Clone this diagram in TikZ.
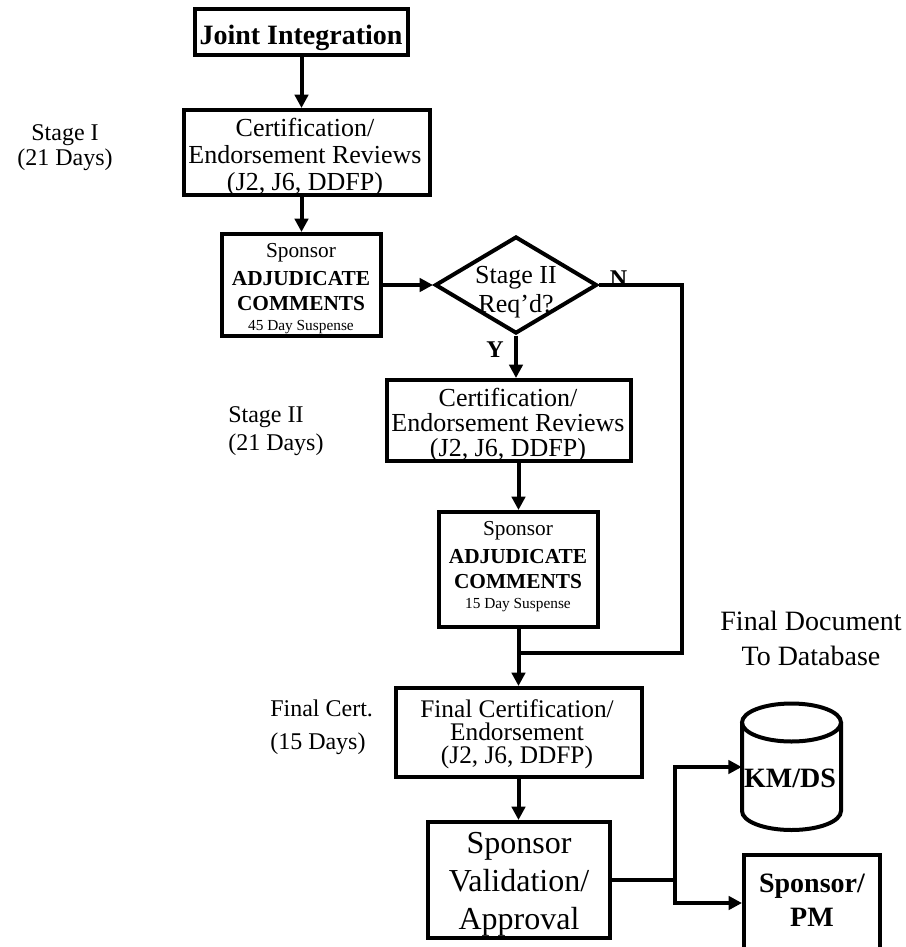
\documentclass[tikz,border=0pt]{standalone}
\usepackage{fontspec}
\setmainfont{Liberation Serif}
\usetikzlibrary{arrows.meta,shapes.geometric}
\begin{document}
\begin{tikzpicture}[x=0.75pt,y=-0.75pt,
  line/.style={line width=3pt},
  arr/.style={line width=3pt,-{Triangle[length=10pt,width=10pt]}},
  box/.style={draw,line width=3pt,rectangle,inner sep=0pt},
  txt/.style={inner sep=0pt,align=center},
  lbl/.style={inner sep=0pt,align=left,anchor=west},
  fs/.style 2 args={font=\fontsize{#1}{#2}\selectfont},
]
\useasboundingbox (0,0) rectangle (906,947);
\clip (0,0) rectangle (906,947);

% ---- boxes ----
\node[box,minimum width=213*0.75pt,minimum height=46*0.75pt] (joint) at (301.5,32) {};
\node[txt,fs={21}{24}] (jointT) at (301,38) {\bfseries Joint Integration};

\node[box,minimum width=246*0.75pt,minimum height=85*0.75pt] (cert1) at (307,152.5) {};
\node[txt,fs={19.5}{20.5}] (cert1T) at (305,157) {Certification/\\Endorsement Reviews\\(J2, J6, DDFP)};

\node[box,minimum width=159*0.75pt,minimum height=102*0.75pt] (spons1) at (301.5,285) {};
\node[txt,fs={16}{18.75}] (spons1T) at (301,289) {Sponsor\\[2.25pt]\textbf{ADJUDICATE}\\\textbf{COMMENTS}\\[-3.75pt]{\fontsize{11.5}{14}\selectfont 45 Day Suspense}};

\node[draw,line width=3pt,diamond,inner sep=0pt,minimum width=162*0.75pt,minimum height=97*0.75pt] (dec) at (516,285) {};
\node[txt,fs={19.5}{21.75}] (decT) at (516,292) {Stage II\\Req'd?};

\node[box,minimum width=244*0.75pt,minimum height=81*0.75pt] (cert2) at (509,420.5) {};
\node[txt,fs={19.5}{19}] (cert2T) at (508,425) {Certification/\\Endorsement Reviews\\(J2, J6, DDFP)};

\node[box,minimum width=159*0.75pt,minimum height=115*0.75pt] (spons2) at (518.5,569.5) {};
\node[txt,fs={16}{18.75}] (spons2T) at (518,567) {Sponsor\\[2.25pt]\textbf{ADJUDICATE}\\\textbf{COMMENTS}\\[-3.75pt]{\fontsize{11.5}{14}\selectfont 15 Day Suspense}};

\node[box,minimum width=246*0.75pt,minimum height=89*0.75pt] (final) at (518.5,732.5) {};
\node[txt,fs={19}{17.25}] (finalT) at (517,734) {Final Certification/\\Endorsement\\(J2, J6, DDFP)};

\node[box,minimum width=182*0.75pt,minimum height=116*0.75pt] (valid) at (518.5,880) {};
\node[txt,fs={24}{28.5}] (validT) at (519,884) {Sponsor\\Validation/\\Approval};

\node[box,minimum width=136*0.75pt,minimum height=96*0.75pt] (pm) at (812,903) {};
\node[txt,fs={21}{25.5}] (pmT) at (812,900) {\bfseries Sponsor/\\\bfseries PM};

% ---- database cylinder ----
\node[inner sep=0pt,minimum width=99*0.75pt,minimum height=126*0.75pt] (cyl) at (791.5,767) {};
\draw[line] (791.5,722.5) ellipse[x radius=37.125pt,y radius=14.25pt];
\draw[line] (742,722.5) -- (742,811) arc[start angle=180,end angle=360,x radius=37.125pt,y radius=14.25pt] -- (841,722.5);
\node[txt,fs={21}{24}] (cylT) at (790,778) {\bfseries KM/DS};

% ---- side labels ----
\node[txt,fs={18}{19}] (stage1) at (65,147.5) {Stage I\\(21 Days)};
\node[lbl,fs={18}{21}] (stage2) at (228,431) {Stage II\\(21 Days)};
\node[lbl,fs={18}{24.75}] (stage3) at (270,727) {Final Cert.\\(15 Days)};
\node[txt,fs={21}{26}] (fdoc) at (811,638.5) {Final Document\\To Database};
\node[txt,fs={18}{20}] (nlab) at (618.5,278.5) {\bfseries N};
\node[txt,fs={18}{20}] (ylab) at (495,349.5) {\bfseries Y};

% ---- connectors ----
\coordinate (join) at (518.5,653);
\coordinate (ncorner) at (682,653);
\coordinate (split) at (675,880);

\draw[arr] (joint.south) -- (joint.south |- cert1.north);
\draw[arr] (spons1.north |- cert1.south) -- (spons1.north);
\draw[arr] (spons1.east) -- (dec.west);
\draw[arr] (dec.south) -- (dec.south |- cert2.north);
\draw[arr] (spons2.north |- cert2.south) -- (spons2.north);
\draw[line] (dec.east) -| (ncorner) -- (join);
\draw[arr] (spons2.south) -- (final.north);
\draw[arr] (final.south) -- (valid.north);
\draw[line] (valid.east) -- (split);
\draw[arr] (split) |- (cyl.west);
\draw[arr] (split) |- (pm.west);
\end{tikzpicture}
\end{document}
